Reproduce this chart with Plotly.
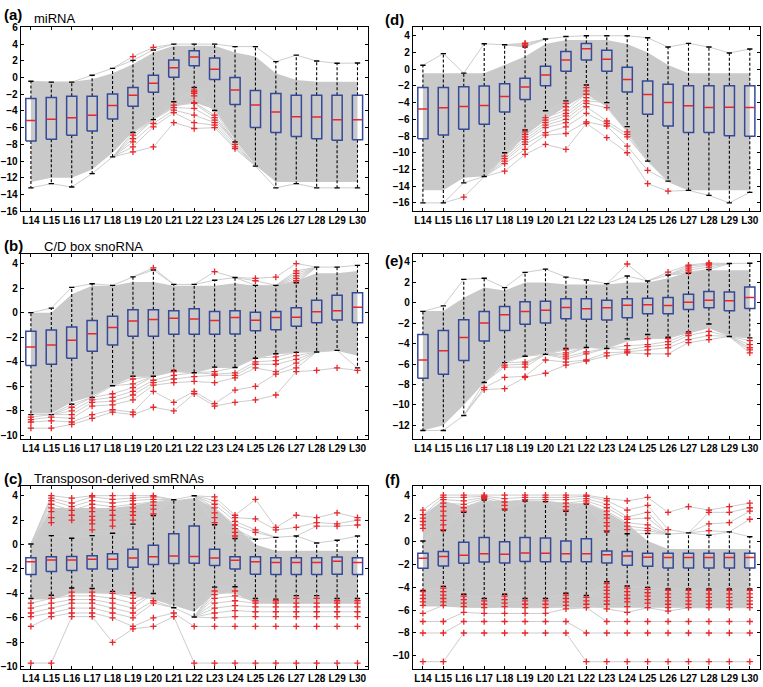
import plotly.graph_objects as go

labels = ["L14", "L15", "L16", "L17", "L18", "L19", "L20", "L21", "L22",
          "L23", "L24", "L25", "L26", "L27", "L28", "L29", "L30"]

# ---------------- panel (a) miRNA ----------------
a_hi = [-0.45, -0.55, -0.55, 0.28, 1.1, 2.05, 3.3, 4.0, 4.0, 4.0, 3.7, 3.7, 1.9, 2.68, 1.97, 1.7, 1.73]
a_q3 = [-2.5, -2.4, -2.25, -2.25, -1.97, -1.18, 0.28, 2.1, 3.2, 2.35, 0.0, -1.55, -1.9, -2.13, -2.13, -2.13, -2.13]
a_med = [-5.15, -5.0, -4.8, -4.5, -3.35, -2.13, -0.7, 1.18, 2.45, 0.98, -1.5, -3.3, -4.13, -4.68, -4.72, -5.04, -5.04]
a_q1 = [-7.6, -7.4, -6.9, -6.4, -4.96, -3.43, -1.77, 0.04, 1.4, -0.24, -3.23, -5.98, -6.57, -7.05, -7.32, -7.5, -7.44]
a_lo = [-13.2, -12.7, -13.1, -11.5, -9.5, -6.57, -5.04, -2.9, -1.2, -3.95, -7.72, -10.6, -13.2, -12.7, -13.2, -13.2, -13.2]
a_out = [[], [], [], [], [],
         [2.5, -6.9, -7.3, -7.7, -8.3, -8.9],
         [3.6, -5.5, -5.9, -8.3],
         [-3.3, -3.6, -3.9, -4.2, -5.4],
         [-1.5, -1.7, -1.9, -2.2, -3.0, -3.1, -3.7, -4.5, -5.4, -6.1],
         [-4.5, -4.8, -5.1, -5.4, -5.7, -6.0],
         [-8.0, -8.3, -8.5],
         [], [], [], [], [], []]
a_band_hi = [-0.5, -0.5, -0.5, -0.2, 0.5, 1.6, 3.0, 3.8, 3.8, 3.8, 3.0, 2.5, 0.5, -0.3, -0.5, -0.5, -0.5]
a_band_lo = [-12.5, -12.0, -12.0, -11.0, -9.0, -6.5, -5.0, -3.5, -3.0, -3.8, -7.5, -10.5, -12.5, -12.5, -12.5, -12.5, -12.5]

# ---------------- panel (d) ----------------
d_hi = [0.47, 1.86, -0.47, 3.04, 2.92, 2.65, 3.6, 3.9, 4.0, 4.0, 4.0, 3.75, 2.65, 3.08, 2.65, 1.94, 2.41]
d_q3 = [-2.2, -2.2, -2.1, -2.0, -1.74, -1.1, 0.36, 2.1, 3.08, 2.25, 0.24, -1.42, -1.82, -1.98, -1.98, -1.98, -1.98]
d_med = [-4.78, -4.62, -4.47, -4.35, -3.28, -2.13, -0.71, 1.1, 2.45, 1.19, -1.23, -3.04, -4.0, -4.39, -4.58, -4.55, -4.58]
d_q1 = [-8.34, -7.87, -7.2, -6.6, -5.14, -3.64, -1.98, -0.24, 1.1, -0.24, -2.73, -5.38, -6.8, -7.59, -7.59, -7.98, -8.02]
d_lo = [-16.0, -16.0, -13.6, -12.85, -10.0, -7.27, -4.98, -3.8, -1.9, -4.0, -6.88, -11.0, -13.4, -14.5, -15.1, -16.0, -14.74]
d_out = [[], [], [-15.3], [],
         [-10.4, -10.7, -11.0, -11.3, -12.2],
         [2.8, 3.0, 3.1, -7.5, -7.8, -8.1, -8.4, -8.7, -9.0, -9.6, -10.2],
         [-5.8, -6.1, -6.4, -6.7, -7.0, -7.6, -7.9, -9.0],
         [-4.1, -4.5, -4.9, -5.3, -5.6, -6.0, -6.4, -6.9, -7.7, -9.6],
         [-2.2, -2.6, -3.0, -3.4, -3.8, -4.1, -4.5, -5.3, -6.3, -6.5],
         [-4.6, -6.2, -6.5, -6.8, -8.2],
         [-7.5, -7.8, -8.1, -9.2, -10.0],
         [-12.1, -13.7],
         [-14.6],
         [], [], [], []]
d_band_hi = [-0.5, -0.5, -0.5, -0.5, 0.5, 1.5, 3.0, 3.5, 3.5, 3.5, 3.0, 2.0, 0.5, -0.5, -0.5, -0.5, -0.5]
d_band_lo = [-14.5, -14.5, -13.0, -12.8, -10.5, -8.0, -6.0, -4.5, -3.0, -4.5, -7.5, -11.0, -13.5, -14.5, -14.5, -14.5, -14.5]

# ---------------- panel (b) C/D box snoRNA ----------------
b_hi = [0.0, 0.37, 2.06, 2.35, 2.22, 2.91, 3.47, 2.3, 2.3, 2.64, 2.86, 2.22, 2.22, 2.43, 3.71, 3.71, 3.85]
b_q3 = [-1.52, -1.42, -1.17, -0.64, -0.29, 0.24, 0.24, 0.16, 0.32, 0.1, 0.16, 0.03, 0.1, 0.4, 1.01, 1.42, 1.63]
b_med = [-2.8, -2.64, -2.24, -1.71, -1.2, -0.67, -0.56, -0.45, -0.51, -0.64, -0.4, -0.61, -0.4, -0.37, 0.08, 0.16, 0.45]
b_q1 = [-4.3, -4.19, -3.71, -3.15, -2.64, -1.92, -1.92, -1.76, -1.76, -1.76, -1.74, -1.47, -1.39, -1.1, -0.83, -0.59, -0.83]
b_lo = [-8.3, -8.3, -7.45, -6.9, -5.95, -5.18, -5.18, -4.7, -4.89, -4.43, -4.46, -3.71, -3.34, -3.23, -3.2, -3.07, -4.49]
b_out = [[-8.5, -8.7, -8.9, -9.4],
         [-8.5, -8.8, -9.4],
         [-7.7, -8.0, -8.3, -8.6, -8.9, -9.1],
         [-7.1, -7.3, -7.6, -8.3, -8.6],
         [-6.6, -6.9, -7.2, -7.5, -7.9, -8.1],
         [-5.4, -5.8, -6.1, -6.4, -6.7, -7.1, -8.1, -8.3],
         [3.65, -5.5, -5.7, -5.9, -6.4, -7.7],
         [-4.8, -5.1, -5.4, -5.7, -7.3, -8.0],
         [-5.2, -5.6, -6.4, -6.6],
         [3.34, -4.8, -5.0, -5.1, -5.7, -7.4, -7.6],
         [-4.9, -5.1, -5.3, -6.3, -7.3],
         [2.6, 2.8, -4.0, -4.2, -4.5, -6.0, -7.1],
         [2.9, -3.6, -3.9, -4.2, -4.8, -5.0, -6.7],
         [2.6, 2.8, 3.0, 3.2, 3.4, 4.0, -3.5, -3.8, -4.1, -4.5, -4.8],
         [-4.7], [-4.5], [-4.7]]
b_band_hi = [0.0, 0.0, 1.5, 2.2, 2.2, 2.5, 2.5, 2.2, 2.2, 2.2, 2.4, 2.2, 2.2, 2.6, 3.2, 3.2, 3.4]
b_band_lo = [-8.2, -8.2, -7.3, -6.8, -5.9, -5.2, -5.2, -4.8, -4.9, -4.5, -4.5, -3.7, -3.4, -3.2, -3.2, -3.1, -3.5]

# ---------------- panel (e) ----------------
e_hi = [-0.84, -0.3, 2.3, 2.4, 1.49, 2.98, 3.3, 2.52, 2.23, 1.88, 2.62, 2.14, 2.72, 2.9, 3.27, 3.85, 3.88]
e_q3 = [-3.1, -2.72, -1.65, -0.84, -0.36, 0.1, 0.16, 0.39, 0.39, 0.26, 0.39, 0.45, 0.52, 0.84, 1.1, 1.07, 1.55]
e_med = [-5.6, -4.69, -3.4, -1.97, -1.17, -0.84, -0.74, -0.45, -0.58, -0.49, -0.23, -0.19, -0.26, 0.06, 0.26, 0.19, 0.52]
e_q1 = [-7.4, -6.99, -5.66, -3.75, -2.72, -2.1, -1.97, -1.55, -1.62, -1.68, -1.46, -1.07, -1.07, -0.65, -0.49, -0.78, -0.55]
e_lo = [-12.5, -12.5, -11.04, -7.8, -5.86, -5.24, -5.05, -4.47, -4.37, -4.47, -3.53, -3.11, -3.37, -2.85, -2.07, -3.3, -3.43]
e_out = [[], [], [],
         [-8.3, -8.5],
         [-6.1, -6.3, -7.3, -8.4],
         [-5.8, -6.0, -6.3, -7.2, -7.3],
         [-5.6, -6.9],
         [-4.6, -4.9, -5.1, -5.3, -5.5, -5.8, -6.1],
         [-4.8, -5.0, -5.6, -5.7],
         [-4.9, -5.2],
         [3.8, -4.2, -4.6, -4.8, -4.9],
         [-3.5, -4.1, -4.3, -4.6, -5.0],
         [3.0, -3.5, -3.8, -4.1, -4.4, -5.0],
         [3.0, 3.2, 3.4, 3.6, 3.7, -3.0, -3.2, -3.6, -3.9],
         [3.5, 3.7, 3.8, 3.9, -2.8, -3.2, -3.6],
         [],
         [-3.7, -4.1, -4.4, -4.6, -4.9]]
e_band_hi = [-0.8, -0.8, 0.5, 1.5, 1.2, 2.0, 2.0, 1.8, 1.8, 1.8, 2.0, 2.0, 2.4, 3.0, 3.2, 3.2, 3.2]
e_band_lo = [-12.5, -12.0, -10.0, -7.8, -5.8, -5.2, -5.0, -4.5, -4.4, -4.5, -3.8, -3.6, -3.4, -3.0, -2.5, -3.3, -3.4]

# ---------------- panel (c) Transposon-derived smRNAs ----------------
c_hi = [0.05, 0.73, 0.51, 0.73, 0.92, 1.67, 2.37, 3.67, 3.99, 1.62, 0.49, 0.43, 0.59, 0.7, 0.13, 0.35, 0.7]
c_q3 = [-1.08, -1.0, -0.97, -0.92, -0.75, -0.38, -0.05, 0.89, 1.51, -0.38, -1.0, -1.0, -1.08, -1.08, -1.08, -1.02, -1.08]
c_med = [-1.4, -1.27, -1.27, -1.21, -1.21, -1.1, -1.0, -0.94, -0.97, -1.1, -1.29, -1.4, -1.46, -1.46, -1.46, -1.37, -1.46]
c_q1 = [-2.45, -2.21, -2.13, -2.0, -2.0, -1.86, -1.64, -1.56, -1.54, -1.72, -2.0, -2.43, -2.45, -2.45, -2.45, -2.43, -2.45]
c_lo = [-4.42, -4.15, -3.56, -3.6, -3.83, -3.93, -4.0, -5.17, -5.93, -3.48, -3.45, -4.42, -4.47, -4.18, -4.18, -4.42, -4.42]
c_out = [[-4.8, -5.2, -5.6, -5.9, -6.7, -9.7],
         [1.8, 2.2, 2.7, 3.0, 3.3, 3.6, 3.8, 4.0, -4.4, -4.8, -5.2, -5.6, -5.9, -9.7],
         [2.0, 2.4, 2.8, 3.1, 3.4, 3.8, -3.9, -4.2, -4.5, -4.8, -5.2, -5.6, -5.9],
         [1.2, 1.7, 2.0, 2.3, 2.7, 3.0, 3.3, 3.6, 3.9, 4.0, -3.9, -4.2, -4.5, -4.8, -5.2, -5.6, -5.9],
         [1.5, 2.0, 2.4, 2.8, 3.1, 3.4, 3.7, 4.0, -4.0, -4.4, -4.8, -5.2, -5.6, -6.0, -8.0],
         [2.0, 2.4, 2.7, 3.0, 3.3, 3.6, 3.8, 4.0, -4.0, -4.4, -4.8, -5.2, -5.6, -6.0, -6.7, -6.9],
         [2.5, 2.9, 3.2, 3.5, 3.7, 3.9, 4.0, -4.6, -4.8, -6.0, -6.7],
         [-5.6, -5.9],
         [-6.7, -9.7],
         [1.8, 2.2, 2.6, 3.0, 3.3, 3.6, 3.9, -3.8, -4.1, -4.4, -4.8, -5.2, -5.6, -6.0, -6.7, -9.7],
         [0.7, 1.0, 1.3, 1.6, 1.9, 2.2, 2.4, -3.8, -4.2, -4.6, -5.0, -5.4, -5.9, -6.7, -9.7],
         [1.0, 1.2, 2.1, 3.7, -4.6, -4.8, -5.1, -5.5, -5.9, -6.7, -9.7],
         [1.2, 1.4, -4.6, -4.8, -5.1, -5.5, -5.9, -6.7, -9.7],
         [1.4, 2.4, -4.4, -4.8, -5.1, -5.5, -5.9, -6.7, -9.7],
         [1.5, 1.8, 2.2, -4.4, -4.8, -5.1, -5.5, -5.9, -6.7, -9.7],
         [1.5, 1.7, 2.6, -4.6, -4.8, -5.1, -5.5, -5.9, -6.7, -9.7],
         [1.6, 2.0, 2.2, -4.6, -4.8, -5.1, -5.5, -5.9, -6.7, -9.7]]
c_band_hi = [0.0, 3.0, 3.0, 3.0, 3.0, 3.2, 3.5, 3.6, 3.8, 3.0, 1.5, 0.0, -0.5, -0.5, -0.5, -0.5, -0.5]
c_band_lo = [-4.5, -4.5, -4.0, -4.0, -4.0, -4.2, -4.5, -5.0, -5.5, -4.0, -4.0, -4.8, -4.8, -4.8, -4.8, -4.8, -4.8]

# ---------------- panel (f) ----------------
f_hi = [0.0, 0.91, 2.51, 3.57, 2.71, 3.49, 3.43, 2.6, 3.23, 0.8, 0.63, 0.66, 0.6, 0.71, 0.51, 0.8, 0.37]
f_q3 = [-1.06, -0.91, -0.11, 0.31, -0.06, 0.31, 0.26, 0.0, 0.2, -0.86, -0.91, -1.06, -1.06, -1.06, -1.06, -1.06, -1.06]
f_med = [-1.49, -1.34, -1.23, -1.11, -1.14, -1.03, -1.06, -1.11, -1.11, -1.2, -1.29, -1.4, -1.43, -1.43, -1.43, -1.43, -1.43]
f_q1 = [-2.37, -2.17, -1.94, -1.83, -1.91, -1.77, -1.8, -1.8, -1.8, -1.91, -2.11, -2.2, -2.34, -2.34, -2.34, -2.34, -2.34]
f_lo = [-4.29, -3.94, -4.63, -5.0, -4.63, -5.0, -5.0, -4.54, -4.74, -3.54, -3.91, -4.03, -4.17, -4.17, -4.17, -4.17, -4.17]
f_out = [[1.1, 1.4, 1.7, 2.0, 2.3, 2.7, -4.4, -4.7, -5.0, -5.3, -5.6, -6.3, -7.0, -8.0, -10.5],
         [1.0, 1.4, 1.8, 2.2, 2.6, 3.0, 3.3, 3.6, 3.8, 4.0, -4.1, -4.4, -4.7, -5.0, -5.3, -5.6, -7.0, -8.0, -10.5],
         [2.6, 2.9, 3.2, 3.5, 3.8, 4.0, -4.8, -5.1, -5.4, -5.7, -6.2, -7.0, -8.0],
         [3.7, 3.8, 3.9, 4.0, -5.2, -5.5, -5.8, -6.3, -7.0, -8.0],
         [2.8, 3.1, 3.4, 3.7, 4.0, -4.8, -5.1, -5.4, -5.7, -6.3, -7.0, -8.0],
         [3.6, 3.8, 4.0, -5.2, -5.5, -5.8, -6.3, -7.0, -8.0],
         [3.6, 3.8, 4.0, -5.2, -5.5, -5.8, -6.3, -7.0, -8.0],
         [2.7, 3.0, 3.3, 3.6, 3.8, 4.0, -4.7, -5.0, -5.3, -5.6, -5.9, -7.0, -8.0],
         [3.3, 3.5, 3.7, 3.9, 4.0, -4.9, -5.2, -5.5, -5.8, -8.0, -10.5],
         [0.9, 1.3, 1.6, 2.0, 2.3, 2.6, 2.9, 3.2, 3.5, 3.7, -3.7, -4.0, -4.3, -4.6, -4.9, -5.2, -5.5, -5.9, -7.0, -8.0, -10.5],
         [1.0, 1.3, 1.6, 1.9, 2.1, 2.7, 3.5, -4.1, -4.4, -4.7, -5.0, -5.3, -5.7, -6.2, -7.0, -8.0, -10.5],
         [0.9, 1.1, 1.4, 2.0, 2.5, 3.1, 3.8, -4.2, -4.5, -4.8, -5.1, -5.4, -5.8, -7.0, -8.0, -10.5],
         [1.0, 2.5, -4.3, -4.6, -4.9, -5.2, -5.5, -5.8, -6.1, -7.0, -8.0, -10.5],
         [3.0, -4.3, -4.6, -4.9, -5.2, -5.5, -5.8, -7.0, -8.0, -10.5],
         [0.9, 1.5, 2.5, 2.7, -4.3, -4.6, -4.9, -5.2, -5.5, -5.8, -7.0, -8.0, -10.5],
         [1.6, 2.5, 3.0, -4.3, -4.6, -4.9, -5.2, -5.5, -5.8, -7.0, -8.0, -10.5],
         [1.9, 2.6, 2.9, 3.3, -4.3, -4.6, -4.9, -5.2, -5.5, -5.8, -7.0, -8.0, -10.5]]
f_band_hi = [2.3, 3.5, 3.0, 3.5, 3.5, 3.5, 3.5, 3.3, 3.3, 2.5, 1.5, 0.0, -0.7, -0.7, -0.7, -0.7, -0.7]
f_band_lo = [-5.7, -5.7, -5.8, -5.8, -5.8, -5.8, -5.8, -5.8, -5.8, -5.8, -5.8, -5.8, -5.8, -5.8, -5.8, -5.8, -5.8]

# ---------------- styling ----------------
GREY = "#c9c9c9"
LINEGREY = "#cdcdcd"
BOXC = "#34499a"
MEDC = "#e8262b"
OUTC = "#e8262b"
FONT = "Liberation Sans, Arial, sans-serif"
BOX_HW = 0.25
CAP_HW = 0.13

fig = go.Figure()


def add_panel(n, hi, q3, med, q1, lo, out, band_hi, band_lo):
    xa = "x" if n == 1 else f"x{n}"
    ya = "y" if n == 1 else f"y{n}"
    xs = list(range(1, len(labels) + 1))
    ncol = len(xs)
    # dense band of profiles
    fig.add_trace(go.Scatter(x=xs + xs[::-1], y=band_hi + band_lo[::-1], fill="toself",
                             fillcolor=GREY, line=dict(width=0), mode="lines",
                             hoverinfo="skip", xaxis=xa, yaxis=ya))
    # individual profiles running through outliers (each segment drawn once)
    segs = set()
    for upper in (True, False):
        ends = hi if upper else lo
        cols = []
        for c in range(ncol):
            vals = [v for v in out[c] if (v > med[c]) == upper]
            vals.sort(reverse=upper)
            cols.append(vals)
        nk = max(len(v) for v in cols)
        for k in range(nk + 1):
            ys = [cols[c][k] if k < len(cols[c]) else ends[c] for c in range(ncol)]
            for c in range(ncol - 1):
                segs.add((c, ys[c], ys[c + 1]))
    lx, ly = [], []
    for c, y1, y2 in sorted(segs):
        lx += [xs[c], xs[c + 1], None]
        ly += [y1, y2, None]
    fig.add_trace(go.Scatter(x=lx, y=ly, mode="lines", line=dict(color=LINEGREY, width=1),
                             hoverinfo="skip", xaxis=xa, yaxis=ya))
    # whiskers
    wx, wy = [], []
    for c in range(ncol):
        wx += [xs[c], xs[c], None, xs[c], xs[c], None]
        wy += [q3[c], hi[c], None, q1[c], lo[c], None]
    fig.add_trace(go.Scatter(x=wx, y=wy, mode="lines",
                             line=dict(color="black", width=1.1, dash="3px,2px"),
                             hoverinfo="skip", xaxis=xa, yaxis=ya))
    # caps
    cx, cy = [], []
    for c in range(ncol):
        cx += [xs[c] - CAP_HW, xs[c] + CAP_HW, None, xs[c] - CAP_HW, xs[c] + CAP_HW, None]
        cy += [hi[c], hi[c], None, lo[c], lo[c], None]
    fig.add_trace(go.Scatter(x=cx, y=cy, mode="lines", line=dict(color="black", width=1.4),
                             hoverinfo="skip", xaxis=xa, yaxis=ya))
    # boxes
    bx, by = [], []
    for c in range(ncol):
        l, r = xs[c] - BOX_HW, xs[c] + BOX_HW
        bx += [l, r, r, l, l, None]
        by += [q1[c], q1[c], q3[c], q3[c], q1[c], None]
    fig.add_trace(go.Scatter(x=bx, y=by, mode="lines", line=dict(color=BOXC, width=1.5),
                             hoverinfo="skip", xaxis=xa, yaxis=ya))
    # medians
    mx, my = [], []
    for c in range(ncol):
        mx += [xs[c] - BOX_HW + 0.02, xs[c] + BOX_HW - 0.02, None]
        my += [med[c], med[c], None]
    fig.add_trace(go.Scatter(x=mx, y=my, mode="lines", line=dict(color=MEDC, width=1.5),
                             hoverinfo="skip", xaxis=xa, yaxis=ya))
    # outliers
    ox, oy = [], []
    for c in range(ncol):
        for v in out[c]:
            ox.append(xs[c])
            oy.append(v)
    fig.add_trace(go.Scatter(x=ox, y=oy, mode="markers",
                             marker=dict(symbol="cross-thin", size=4.5,
                                         line=dict(color=OUTC, width=1.3)),
                             hoverinfo="skip", xaxis=xa, yaxis=ya))


add_panel(1, a_hi, a_q3, a_med, a_q1, a_lo, a_out, a_band_hi, a_band_lo)
add_panel(2, d_hi, d_q3, d_med, d_q1, d_lo, d_out, d_band_hi, d_band_lo)
add_panel(3, b_hi, b_q3, b_med, b_q1, b_lo, b_out, b_band_hi, b_band_lo)
add_panel(4, e_hi, e_q3, e_med, e_q1, e_lo, e_out, e_band_hi, e_band_lo)
add_panel(5, c_hi, c_q3, c_med, c_q1, c_lo, c_out, c_band_hi, c_band_lo)
add_panel(6, f_hi, f_q3, f_med, f_q1, f_lo, f_out, f_band_hi, f_band_lo)

W, H = 763, 687
col_dom = [[20.7 / W, 367.7 / W], [412.7 / W, 760.0 / W]]
row_dom = [[1 - 209.3 / H, 1 - 22.7 / H], [1 - 440.0 / H, 1 - 253.0 / H], [1 - 674.0 / H, 1 - 488.0 / H]]
y_ranges = [[-16, 6], [-17, 5], [-10.25, 4.75], [-13.3, 4.75], [-10.2, 4.8], [-11.15, 4.8]]

layout = dict(width=W, height=H, margin=dict(l=0, r=0, t=0, b=0),
              paper_bgcolor="white", plot_bgcolor="white", showlegend=False,
              font=dict(family=FONT, color="black"))
for n in range(1, 7):
    r = (n - 1) // 2
    c = (n - 1) % 2
    xk = "xaxis" if n == 1 else f"xaxis{n}"
    yk = "yaxis" if n == 1 else f"yaxis{n}"
    ya = "y" if n == 1 else f"y{n}"
    xa = "x" if n == 1 else f"x{n}"
    layout[xk] = dict(domain=col_dom[c], range=[0.5, 17.5], anchor=ya,
                      tickmode="array", tickvals=list(range(1, 18)), ticktext=labels,
                      ticks="inside", ticklen=3, tickcolor="black", mirror="allticks",
                      showline=True, linecolor="black", linewidth=1,
                      showgrid=False, zeroline=False,
                      tickfont=dict(family=FONT, size=10, color="black", weight="bold"))
    layout[yk] = dict(domain=row_dom[r], range=y_ranges[n - 1], anchor=xa, dtick=2,
                      ticks="inside", ticklen=3, tickcolor="black", mirror="allticks",
                      showline=True, linecolor="black", linewidth=1,
                      showgrid=False, zeroline=False,
                      tickfont=dict(family=FONT, size=10, color="black", weight="bold"))

fig.update_layout(**layout)

panel_tags = [("(a)", 2, 10, "miRNA", 32, 14),
              ("(d)", 383, 15, "", 0, 0),
              ("(b)", 2, 244, "C/D box snoRNA", 42, 245),
              ("(e)", 383, 259, "", 0, 0),
              ("(c)", 2, 480, "Transposon-derived smRNAs", 32, 481),
              ("(f)", 383, 482, "", 0, 0)]
for tag, tx, ty, title, sx, sy in panel_tags:
    fig.add_annotation(text=tag, x=tx / W, y=1 - ty / H, xref="paper", yref="paper",
                       xanchor="left", yanchor="middle", showarrow=False,
                       font=dict(family=FONT, size=15, color="black", weight="bold"))
    if title:
        fig.add_annotation(text=title, x=sx / W, y=1 - sy / H, xref="paper", yref="paper",
                           xanchor="left", yanchor="middle", showarrow=False,
                           font=dict(family=FONT, size=13, color="black"))

fig.write_html("out.html", config={"displayModeBar": False},
               post_script="document.body.style.margin='0';document.body.style.overflow='hidden';")
